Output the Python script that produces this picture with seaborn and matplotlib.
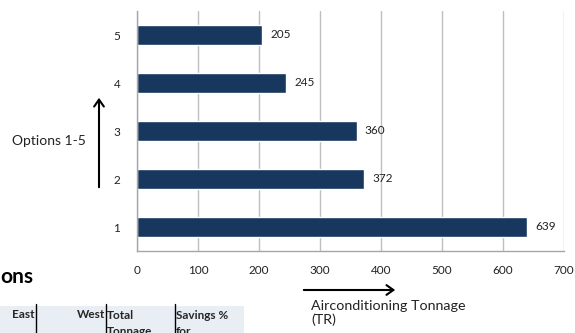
import matplotlib
matplotlib.use("Agg")
import matplotlib.pyplot as plt
import seaborn as sns
import pandas as pd
from matplotlib.patches import Rectangle, FancyArrowPatch
from matplotlib.lines import Line2D

options = ["5", "4", "3", "2", "1"]
tonnage = [205, 245, 360, 372, 639]
x_ticks = [0, 100, 200, 300, 400, 500, 600, 700]

sns.set_theme(style="white")
plt.rcParams['font.family'] = ['Lato', 'DejaVu Sans']

W, H = 575, 333
fig = plt.figure(figsize=(W / 100, H / 100), dpi=100)
ax = fig.add_axes([137 / W, (H - 251) / H, (564 - 137) / W, (251 - 11) / H])

df = pd.DataFrame({"option": options, "tonnage": tonnage})
sns.barplot(data=df, x="tonnage", y="option", order=options, orient="h",
            color="#17375E", width=0.42, ax=ax, saturation=1)

ax.set_xlim(0, 700)
ax.set_ylim(4.5, -0.5)
ax.set_xticks(x_ticks)
ax.set_xticklabels([str(t) for t in x_ticks], fontsize=8.5, color="#222222")
ax.set_yticks(range(len(options)))
ax.set_yticklabels(options, fontsize=8.5, color="#222222")
ax.set_xlabel("")
ax.set_ylabel("")
ax.xaxis.grid(True, color="#BFBFBF", linewidth=1)
ax.set_axisbelow(True)
for s in ["top", "right"]:
    ax.spines[s].set_visible(False)
for s in ["left", "bottom"]:
    ax.spines[s].set_color("#A6A6A6")
    ax.spines[s].set_linewidth(1)
ax.tick_params(axis="y", which="major", length=0, pad=12)
ax.set_yticks([i - 0.5 for i in range(len(options) + 1)], minor=True)
ax.tick_params(axis="y", which="minor", length=4, color="#A6A6A6", direction="out")
ax.tick_params(axis="x", which="major", length=4, color="#A6A6A6", direction="out", pad=6)

for i, v in enumerate(tonnage):
    ax.annotate(str(v), (v, i), xytext=(6, 0), textcoords="offset points",
                va="center", ha="left", fontsize=8.5, color="#222222")

def px(x, y):
    return (x / W, 1 - y / H)

# side annotations
fig.text(*px(12, 141), "Options 1-5", fontsize=10, va="center", ha="left", color="#222222")
fig.add_artist(FancyArrowPatch(px(99, 190), px(99, 95), transform=fig.transFigure,
                               arrowstyle="->,head_length=5,head_width=3.5", color="black",
                               linewidth=1.5, mutation_scale=1))
fig.add_artist(FancyArrowPatch(px(301, 290), px(398, 290), transform=fig.transFigure,
                               arrowstyle="->,head_length=5,head_width=3.5", color="black",
                               linewidth=1.5, mutation_scale=1))
fig.text(*px(311, 300), "Airconditioning Tonnage\n(TR)", fontsize=10.3, va="top", ha="left",
         color="#222222", linespacing=1.15)

# cut-off title and table fragment
fig.text(*px(0, 277), "ons", fontsize=15, fontweight="bold", va="center", ha="left", color="black")
fig.add_artist(Rectangle(px(0, 333), 244 / W, 27 / H, transform=fig.transFigure,
                         facecolor="#E9EDF4", edgecolor="none", zorder=0))
for xl in [36, 106, 175]:
    fig.add_artist(Line2D([xl / W, xl / W], [1 - 304 / H, 0], transform=fig.transFigure,
                          color="black", linewidth=1))
fig.text(*px(12, 315), "East", fontsize=8.5, fontweight="bold", va="center", ha="left")
fig.text(*px(105, 315), "West", fontsize=8.5, fontweight="bold", va="center", ha="right")
fig.text(*px(107, 310), "Total\nTonnage", fontsize=8.5, fontweight="bold", va="top", ha="left",
         linespacing=1.55)
fig.text(*px(176, 310), "Savings %\nfor", fontsize=8.5, fontweight="bold", va="top", ha="left",
         linespacing=1.55)

fig.savefig("out.png", dpi=100)
